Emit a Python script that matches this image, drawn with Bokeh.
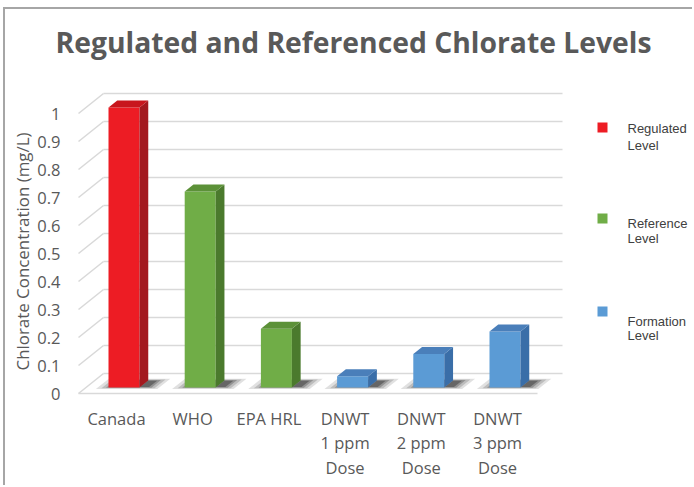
import numpy as np
from bokeh.plotting import figure
from bokeh.models import FixedTicker, CustomJSTickFormatter, Range1d, Title, Label
from bokeh.core.properties import value
from bokeh.embed import file_html
from bokeh.resources import INLINE

# ---------------- data ----------------
categories = ["Canada", "WHO", "EPA HRL", "DNWT 1 ppm Dose", "DNWT 2 ppm Dose", "DNWT 3 ppm Dose"]
tick_labels = ["Canada", "WHO", "EPA HRL", "DNWT\n1 ppm\nDose", "DNWT\n2 ppm\nDose", "DNWT\n3 ppm\nDose"]
values = [1.0, 0.7, 0.21, 0.04, 0.12, 0.2]
level_type = ["Regulated", "Reference", "Reference", "Formation", "Formation", "Formation"]
y_ticks = [0.0, 0.1, 0.2, 0.3, 0.4, 0.5, 0.6, 0.7, 0.8, 0.9, 1.0]
legend_line1 = ["Regulated", "Reference", "Formation"]
legend_line2 = ["Level", "Level", "Level"]
legend_types = ["Regulated", "Reference", "Formation"]
title_text = "Regulated and Referenced Chlorate Levels"
y_title = "Chlorate Concentration (mg/L)"

# ---------------- styles ----------------
front_col = {"Regulated": "#ED1C24", "Reference": "#70AD47", "Formation": "#5B9BD5"}
side_col = {"Regulated": "#A3191F", "Reference": "#4B7A2D", "Formation": "#3A6EA8"}
top_col = {"Regulated": "#C8161D", "Reference": "#5C9138", "Formation": "#4A7FBA"}
grid_col = "#D9D9D9"
text_col = "#595959"
FONT = "Open Sans"

MARGIN_X, MARGIN_Y, BORDER = 3, 7, 2
ORIGIN_X, ORIGIN_Y = MARGIN_X + BORDER, MARGIN_Y + BORDER   # picture position of canvas
PX_CAT, PX_VAL = 76.2, 280.0         # pixels per category / per value unit
CAT0_PX, VAL0_PX = 116.0, 393.0      # picture px of category 0 / value 0 (front plane)
FRAME_L, FRAME_T, FRAME_B = 50, ORIGIN_Y, 395
WALL_L = 78                           # picture x of the front edge of the left wall
YLAB_R = 60                           # picture x of right edge of y tick labels
W, H = 694 - ORIGIN_X, 487 - ORIGIN_Y

def dx(px):
    return (px - CAT0_PX) / PX_CAT

def dy(py):
    return (VAL0_PX - py) / PX_VAL

DX, DY = 25 / PX_CAT, 20 / PX_VAL     # depth vector of the 3D box
F0, F1 = 0.30, 0.65                   # bar depth (fractions)
HW = 15.5 / PX_CAT                    # half width of bar front face
X_LEFT = dx(WALL_L)
X_RIGHT_FRONT = dx(537)

p = figure(width=W, height=H, output_backend="svg", toolbar_location=None,
           x_range=Range1d(dx(FRAME_L), dx(694)), y_range=Range1d(dy(FRAME_B), dy(FRAME_T)),
           min_border_left=FRAME_L - ORIGIN_X, min_border_right=0,
           min_border_top=FRAME_T - ORIGIN_Y,
           min_border_bottom=H - (FRAME_B - ORIGIN_Y))
p.styles = {"margin-left": f"{MARGIN_X}px", "margin-top": f"{MARGIN_Y}px",
            "border-top": f"{BORDER}px solid #A6A6A6", "border-left": f"{BORDER}px solid #A6A6A6"}
p.outline_line_color = None
p.xgrid.visible = False
p.ygrid.visible = False
p.background_fill_color = "white"
p.border_fill_color = "white"

# ---------------- walls (gridlines) ----------------
p.segment(x0=[X_LEFT + DX] * len(y_ticks), y0=[t + DY for t in y_ticks],
          x1=[X_RIGHT_FRONT + DX] * len(y_ticks), y1=[t + DY for t in y_ticks],
          line_color=grid_col, line_width=1.6)
p.segment(x0=[X_LEFT] * len(y_ticks), y0=y_ticks,
          x1=[X_LEFT + DX] * len(y_ticks), y1=[t + DY for t in y_ticks],
          line_color=grid_col, line_width=1.6)
p.segment(x0=[X_LEFT], y0=[0], x1=[X_RIGHT_FRONT], y1=[0], line_color=grid_col, line_width=1.6)

xs_idx = list(range(len(categories)))

# ---------------- shadows ----------------
def floor_quad(xa, xb, fa, fb):
    return ([xa + fa * DX, xb + fa * DX, xb + fb * DX, xa + fb * DX],
            [fa * DY, fa * DY, fb * DY, fb * DY])

# (left extension beyond bar, right extension beyond bar, depth from, depth to, alpha)
shadow_layers = [(0.14, 0.26, 0.22, 0.74, 0.12),
                 (0.08, 0.21, 0.26, 0.70, 0.16),
                 (0.03, 0.16, 0.29, 0.67, 0.22)]
for lp, rp, fa, fb, al in shadow_layers:
    sx, sy = [], []
    for i in xs_idx:
        qx, qy = floor_quad(i - HW - lp, i + HW + rp, fa, fb)
        sx.append(qx); sy.append(qy)
    p.patches(sx, sy, fill_color="black", fill_alpha=al, line_color=None)
sx, sy = [], []
for i in xs_idx:
    qx, qy = floor_quad(i + HW, i + HW + 0.12, 0.32, 0.64)
    sx.append(qx); sy.append(qy)
p.patches(sx, sy, fill_color="black", fill_alpha=0.3, line_color=None)

# ---------------- 3D bars ----------------
fl = [i - HW + F0 * DX for i in xs_idx]
fr = [i + HW + F0 * DX for i in xs_idx]
p.quad(left=fl, right=fr, bottom=[F0 * DY] * len(values), top=[v + F0 * DY for v in values],
       fill_color=[front_col[t] for t in level_type], line_color=None)
side_x = [[r, r + (F1 - F0) * DX, r + (F1 - F0) * DX, r] for r in fr]
side_y = [[F0 * DY, F1 * DY, v + F1 * DY, v + F0 * DY] for v in values]
p.patches(side_x, side_y, fill_color=[side_col[t] for t in level_type], line_color=None)
top_x = [[l, r, r + (F1 - F0) * DX, l + (F1 - F0) * DX] for l, r in zip(fl, fr)]
top_y = [[v + F0 * DY, v + F0 * DY, v + F1 * DY, v + F1 * DY] for v in values]
p.patches(top_x, top_y, fill_color=[top_col[t] for t in level_type], line_color=None)

# ---------------- axes ----------------
p.xaxis.ticker = FixedTicker(ticks=xs_idx)
p.xaxis.major_label_overrides = {i: lab for i, lab in zip(xs_idx, tick_labels)}
p.yaxis.ticker = FixedTicker(ticks=y_ticks)
p.yaxis.formatter = CustomJSTickFormatter(code="return (Math.round(tick*10)/10).toString();")
for ax in (p.xaxis, p.yaxis):
    ax.axis_line_color = None
    ax.major_tick_line_color = None
    ax.minor_tick_line_color = None
    ax.major_tick_out = 0
    ax.major_tick_in = 0
    ax.major_label_text_font = FONT
    ax.major_label_text_font_size = "16.5px"
    ax.major_label_text_color = text_col
p.xaxis.major_label_standoff = 11
p.xaxis.major_label_text_line_height = 1.07
p.yaxis.major_label_standoff = FRAME_L - YLAB_R

# ---------------- titles ----------------
p.add_layout(Label(x=dx(353), y=dy(41), text=title_text, text_align="center",
                   text_baseline="middle", text_font=FONT, text_font_style="bold",
                   text_font_size="28.3px", text_color=text_col))
p.add_layout(Title(text=y_title, align="left", offset=FRAME_B - 370, standoff=2,
                   text_font=FONT, text_font_style="normal", text_font_size="16.9px",
                   text_color=text_col), "left")

# ---------------- legend ----------------
leg_sq_y = [dy(127), dy(218), dy(311)]
leg_l1_y = [dy(128), dy(223), dy(320.5)]
leg_l2_y = [dy(144.5), dy(237.5), dy(334.5)]
p.scatter(x=[dx(602)] * 3, y=leg_sq_y, marker="square", size=10,
          fill_color=[front_col[t] for t in legend_types], line_color=None)
p.text(x=[dx(627)] * 3, y=leg_l1_y, text=legend_line1, text_font=value("Liberation Sans"),
       text_font_size="13px", text_color="#404040", text_baseline="middle", text_align="left")
p.text(x=[dx(627)] * 3, y=leg_l2_y, text=legend_line2, text_font=value("Liberation Sans"),
       text_font_size="13px", text_color="#404040", text_baseline="middle", text_align="left")

open("out.html", "w").write(file_html(p, INLINE))
